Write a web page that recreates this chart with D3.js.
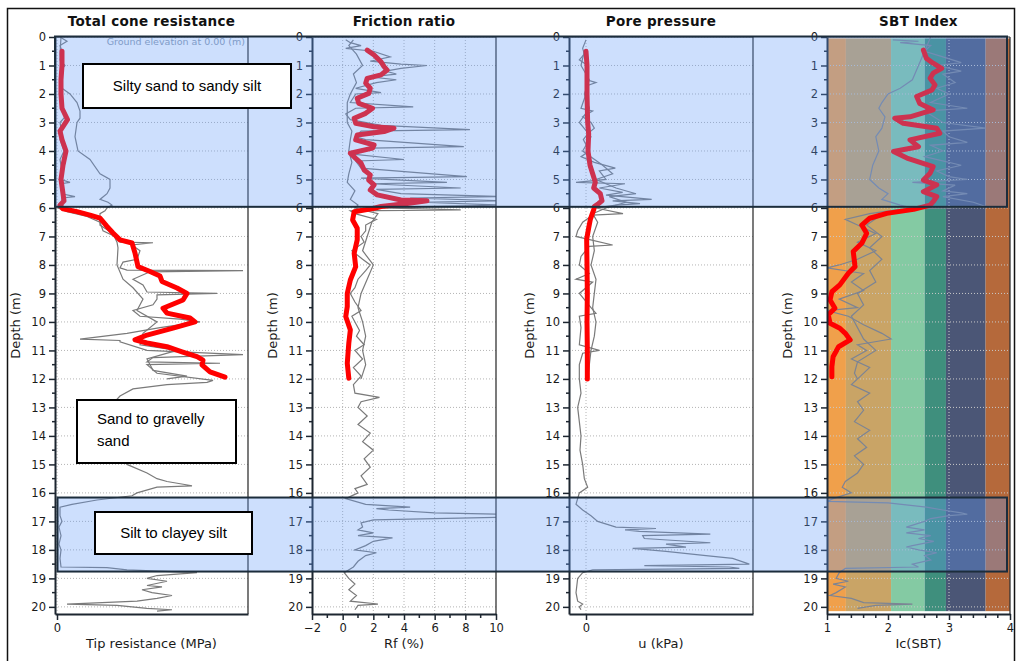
<!DOCTYPE html>
<html>
<head>
<meta charset="utf-8">
<script src="https://cdn.jsdelivr.net/npm/d3@7"></script>
<style>
  body { margin: 0; background: #fff; }
  svg { display: block; }
</style>
</head>
<body>
<svg id="chart" width="1019" height="661"></svg>
<script>
// --- data: [depth (m), value] ---
const qtAvg = [[0.5,0.5],[1.0,0.5],[1.5,0.4],[2.0,0.4],[2.5,0.5],[2.9,1.05],[3.3,0.3],[3.6,0.5],[4.0,0.9],[4.5,0.6],[5.0,0.4],[5.5,0.6],[5.75,0.7],[5.9,0.3],[6.03,0.6],[6.13,2.0],[6.25,3.3],[6.36,4.3],[6.65,5.0],[6.88,5.6],[7.12,6.3],[7.23,7.5],[7.58,7.8],[8.06,8.1],[8.23,9.3],[8.39,10.3],[8.58,10.5],[8.81,12.0],[9.0,13.0],[9.23,12.6],[9.52,10.6],[9.69,11.0],[9.86,13.3],[10.0,13.8],[10.22,11.6],[10.46,9.0],[10.63,7.8],[10.74,9.0],[10.87,11.0],[11.05,12.5],[11.22,14.0],[11.34,14.6],[11.51,14.5],[11.75,15.3],[11.94,16.8]];
const qtRawA = [[0.0,0.3],[0.15,1.0],[0.3,0.3],[0.5,0.5],[0.8,0.3],[1.0,0.8],[1.2,0.3],[1.5,0.5],[1.8,0.4],[2.0,0.3],[2.5,0.5],[2.8,0.8],[3.0,0.3],[3.4,0.5],[3.6,0.3],[4.0,0.7],[4.3,0.3],[4.7,0.5],[5.0,0.4],[5.1,1.3],[5.15,0.4],[5.5,0.5],[5.6,1.8],[5.65,0.5],[5.8,0.5],[6.0,0.1],[6.13,1.0],[6.3,3.0],[6.5,4.3],[6.8,4.6],[7.0,5.8],[7.2,6.3],[7.22,9.6],[7.3,7.5],[7.5,8.3],[7.8,8.0],[7.9,6.6],[8.1,6.3],[8.18,7.0],[8.2,18.6],[8.24,9.3],[8.5,7.6],[8.7,8.6],[8.95,9.0],[9.0,16.0],[9.05,10.0],[9.2,10.0],[9.4,9.6],[9.6,7.6],[9.8,8.3],[9.9,12.3],[10.0,14.3],[10.2,10.3],[10.4,7.0],[10.6,2.3],[10.65,6.3],[10.7,6.3],[11.0,9.0],[11.15,18.6],[11.25,9.6],[11.4,9.0],[11.45,16.3],[11.5,9.0],[11.8,10.0],[12.05,15.6],[12.12,15.0],[12.2,11.0],[12.35,7.6],[12.6,6.3],[12.9,5.5],[13.5,6.0],[14.0,6.5],[14.5,6.0],[15.0,7.0],[15.3,9.0],[15.5,10.0],[15.6,11.0],[15.75,13.5],[15.8,10.0],[16.0,8.0],[16.1,7.5],[16.25,4.0],[16.4,1.5],[16.5,0.3],[16.8,0.3],[17.0,0.5],[17.2,0.2],[17.5,0.4],[17.8,0.2],[18.0,0.4],[18.3,0.3],[18.6,0.4],[18.62,5.0],[18.7,7.0],[18.8,14.0],[18.9,10.0],[19.0,9.0],[19.1,11.0],[19.25,9.0],[19.3,10.5],[19.4,8.5],[19.5,9.5],[19.6,11.5],[19.7,10.0],[19.8,8.0],[19.9,1.0],[19.95,6.0],[20.05,9.0],[20.1,11.5],[20.15,10.0]];
const qtRawB = [[0.0,0.4],[0.6,0.3],[1.2,0.4],[1.8,0.5],[2.0,1.3],[2.3,2.0],[2.6,2.3],[2.85,2.3],[3.0,2.0],[3.5,1.8],[4.0,2.1],[4.3,3.3],[4.8,4.3],[5.0,5.3],[5.3,5.3],[5.5,5.0],[5.7,4.3],[5.8,5.1],[5.9,5.5],[6.0,5.0],[6.1,4.8],[6.2,4.3],[6.6,4.3],[6.9,5.6],[7.2,6.0],[7.4,6.1],[8.0,6.0],[8.5,6.6],[8.8,7.6],[9.2,8.6],[9.6,8.0],[10.0,10.0],[10.4,8.6],[10.8,8.3],[11.0,12.0],[11.3,9.0],[11.7,9.6],[11.9,13.0],[12.0,11.0]];

const rfAvg = [[0.46,1.6],[0.63,2.05],[0.87,2.5],[1.04,2.7],[1.16,2.9],[1.33,2.5],[1.45,1.6],[1.62,1.5],[1.8,1.8],[1.98,1.7],[2.15,0.95],[2.33,1.05],[2.5,1.95],[2.68,1.5],[2.85,0.75],[3.03,0.85],[3.15,2.05],[3.2,3.35],[3.32,2.7],[3.44,0.95],[3.61,0.85],[3.79,2.05],[3.9,1.95],[4.08,0.5],[4.26,0.85],[4.43,1.2],[4.67,1.4],[4.84,1.8],[5.02,1.7],[5.19,2.05],[5.37,1.8],[5.54,2.25],[5.72,3.8],[5.75,5.5],[5.84,4.2],[5.95,2.5],[6.01,2.05],[6.13,0.75],[6.42,0.65],[6.71,0.95],[7.12,0.95],[7.59,0.75],[8.06,0.85],[8.53,0.5],[9.0,0.3],[9.46,0.3],[9.81,0.2],[10.28,0.5],[10.75,0.4],[11.45,0.3],[11.98,0.4]];
const rfRawA = [[0.1,0.2],[0.2,0.5],[0.3,1.2],[0.4,0.2],[0.5,2.0],[0.7,3.1],[0.85,1.8],[0.95,3.8],[1.0,5.5],[1.1,3.8],[1.2,2.8],[1.3,3.5],[1.4,1.8],[1.5,3.5],[1.6,2.2],[1.8,0.85],[1.95,2.5],[2.0,0.85],[2.3,0.5],[2.45,4.6],[2.5,0.85],[2.7,0.2],[2.9,0.5],[3.1,2.5],[3.25,8.3],[3.3,1.2],[3.5,0.85],[3.6,1.5],[3.85,7.9],[3.9,1.8],[4.1,0.5],[4.3,4.0],[4.35,0.85],[4.6,1.2],[4.9,8.1],[4.95,1.2],[5.1,6.8],[5.15,1.8],[5.3,7.7],[5.35,2.2],[5.5,3.8],[5.6,10.5],[5.65,4.4],[5.75,10.5],[5.8,5.1],[5.9,10.5],[5.95,5.1],[6.0,2.5],[6.07,7.7],[6.1,0.5],[6.2,0.8],[6.4,2.2],[6.6,1.5],[6.8,1.5],[7.0,1.2],[7.2,1.4],[7.5,0.6],[7.8,1.3],[8.0,1.8],[8.2,1.5],[8.5,1.0],[8.8,0.8],[9.0,0.5],[9.3,0.8],[9.6,1.2],[9.8,0.6],[10.0,0.8],[10.3,1.1],[10.5,0.9],[10.8,1.4],[11.0,0.8],[11.3,1.3],[11.6,0.7],[11.9,1.2],[12.2,0.7],[12.5,0.8],[12.65,2.4],[12.8,1.2],[13.0,1.0],[13.3,1.6],[13.6,1.0],[13.9,1.8],[14.2,1.3],[14.5,2.0],[14.8,1.4],[15.1,1.8],[15.4,1.2],[15.7,1.6],[15.85,0.8],[16.0,1.0],[16.2,0.2],[16.4,1.5],[16.5,4.4],[16.55,2.2],[16.6,3.0],[16.7,6.0],[16.75,10.5],[16.85,10.5],[16.9,6.0],[16.95,2.0],[17.05,1.2],[17.2,1.3],[17.3,1.0],[17.4,2.0],[17.5,1.0],[17.58,3.25],[17.7,2.0],[17.85,1.5],[18.0,0.8],[18.1,2.2],[18.2,1.5],[18.4,1.0],[18.6,0.7],[18.8,0.1],[19.0,0.4],[19.2,0.8],[19.4,0.4],[19.6,0.9],[19.8,0.5],[19.9,2.3],[19.95,1.0],[20.1,0.8]];
const rfRawB = [[0.1,0.7],[0.3,0.4],[0.6,0.9],[1.0,1.3],[1.3,0.7],[1.6,0.9],[2.0,0.5],[2.3,0.3],[2.7,0.3],[3.0,0.3],[3.3,0.6],[3.6,0.5],[4.0,0.4],[4.4,0.6],[4.8,0.4],[5.1,0.3],[5.4,0.8],[5.7,0.5],[5.9,1.0],[6.0,0.8],[6.2,2.3],[6.5,1.9],[7.0,1.6],[7.5,1.3],[8.0,2.0],[8.5,1.6],[9.0,1.2],[9.5,1.0],[10.0,1.3],[10.5,1.5],[11.0,1.3],[11.5,1.5],[12.0,1.2]];

const uAvg = [[0.5,0],[1.0,3],[2.0,3],[3.0,5],[3.4,8],[4.0,6],[4.5,12],[4.8,20],[5.1,28],[5.3,23],[5.5,43],[5.75,48],[5.85,37],[5.95,25],[6.07,23],[6.4,13],[6.7,8],[7.1,2],[8.0,3],[9.0,4],[10.0,3],[11.0,4],[12.0,4]];
const uRawA = [[0.1,0],[0.4,-10],[0.6,-5],[0.8,-20],[1.0,5],[1.5,3],[1.6,30],[1.7,5],[2.0,0],[2.5,-15],[2.6,20],[2.8,-10],[3.0,15],[3.2,25],[3.4,5],[3.6,-8],[4.0,10],[4.2,-15],[4.4,25],[4.6,88],[4.7,40],[5.0,60],[5.1,-30],[5.15,117],[5.3,40],[5.45,110],[5.55,60],[5.7,197],[5.75,80],[5.85,162],[5.9,90],[6.0,30],[6.2,111],[6.25,20],[6.5,-10],[6.8,-25],[7.0,-30],[7.3,80],[7.35,10],[7.7,-15],[8.0,-20],[8.3,10],[8.5,-30],[8.6,20],[9.0,-20],[9.5,15],[9.7,30],[9.8,-20],[10.2,-15],[10.8,-20],[11.0,40],[11.1,-10],[11.5,-20],[12.0,-20],[12.5,-15],[13.0,-25],[13.5,-20],[14.0,-15],[14.5,-18],[15.0,-10],[15.5,-5],[15.8,5],[16.0,-20],[16.4,-30],[16.6,-10],[16.8,15],[17.0,35],[17.2,90],[17.25,210],[17.3,117],[17.35,160],[17.45,373],[17.5,170],[17.6,175],[17.75,373],[17.8,240],[17.9,300],[17.95,140],[18.05,240],[18.2,360],[18.3,440],[18.5,490],[18.55,175],[18.6,430],[18.65,460],[18.7,20],[18.8,-10],[19.0,-25],[19.5,-30],[19.8,-25],[19.9,-10],[20.0,-20],[20.1,-15]];
const uRawB = [[0.5,-5],[1.0,-15],[1.5,10],[2.0,-5],[2.5,10],[3.0,-20],[3.5,15],[4.0,-10],[4.5,50],[4.8,80],[5.0,30],[5.3,90],[5.5,150],[5.6,70],[5.8,120],[6.0,60],[6.2,20],[6.5,35],[7.0,20],[7.5,25],[8.0,15],[8.5,30],[9.0,25],[9.5,20],[10.0,30],[10.5,25],[11.0,15],[11.5,10],[12.0,5]];

const sbtAvg = [[0.46,2.58],[0.75,2.63],[0.92,2.74],[1.1,2.88],[1.27,2.74],[1.45,2.69],[1.68,2.77],[1.86,2.72],[2.09,2.47],[2.33,2.52],[2.56,2.74],[2.8,2.36],[2.85,2.11],[3.03,2.25],[3.2,2.8],[3.38,2.85],[3.61,2.36],[3.85,2.5],[4.02,2.09],[4.25,2.31],[4.55,2.74],[4.78,2.69],[5.02,2.58],[5.19,2.8],[5.43,2.58],[5.6,2.8],[5.78,2.74],[5.9,2.69],[6.05,2.42],[6.19,1.98],[6.36,1.7],[6.6,1.57],[6.89,1.65],[7.24,1.57],[7.53,1.43],[8.06,1.46],[8.29,1.35],[8.7,1.21],[8.94,1.08],[9.23,1.05],[9.52,1.13],[9.75,1.02],[10.05,1.05],[10.22,1.21],[10.4,1.3],[10.63,1.38],[10.87,1.19],[11.22,1.1],[11.57,1.08],[11.92,1.08]];
const sbtRawA = [[0.1,2.08],[0.15,2.5],[0.2,2.2],[0.3,2.7],[0.5,2.6],[0.7,2.9],[0.9,3.2],[1.0,2.8],[1.2,3.2],[1.3,2.9],[1.6,3.1],[1.8,2.8],[2.0,3.0],[2.3,2.7],[2.5,3.3],[2.6,2.6],[3.0,2.9],[3.2,3.6],[3.3,2.9],[3.5,3.0],[3.7,3.3],[3.8,2.7],[4.0,2.9],[4.2,2.6],[4.5,3.2],[4.7,2.8],[4.9,3.0],[5.0,3.3],[5.1,2.4],[5.2,3.1],[5.4,2.9],[5.5,3.3],[5.6,2.9],[5.8,3.4],[5.95,3.6],[6.0,3.0],[6.05,2.2],[6.2,1.7],[6.4,1.3],[6.6,1.5],[6.9,1.8],[7.2,1.5],[7.5,1.8],[7.8,1.5],[8.0,1.2],[8.1,1.0],[8.3,1.6],[8.6,1.4],[8.9,1.6],[9.2,1.2],[9.5,1.5],[9.6,1.0],[9.8,1.35],[10.1,1.6],[10.4,1.9],[10.6,2.05],[10.8,1.5],[11.0,1.65],[11.3,1.4],[11.6,1.7],[11.9,1.55],[12.2,1.4],[12.5,1.7],[12.8,1.5],[13.1,1.6],[13.5,1.45],[13.8,1.7],[14.1,1.5],[14.4,1.65],[14.7,1.45],[15.0,1.6],[15.3,1.5],[15.6,1.3],[15.8,1.25],[16.0,1.4],[16.2,1.1],[16.3,1.0],[16.35,2.0],[16.5,2.63],[16.6,2.9],[16.7,3.2],[16.75,3.3],[16.8,3.0],[16.9,2.7],[17.0,2.6],[17.2,2.3],[17.3,2.6],[17.4,2.3],[17.5,2.7],[17.6,2.5],[17.7,2.75],[17.85,2.4],[17.9,2.3],[18.0,2.5],[18.1,2.8],[18.2,2.6],[18.35,2.7],[18.5,2.4],[18.6,2.5],[18.65,1.3],[18.8,1.2],[19.0,1.15],[19.1,1.35],[19.2,1.1],[19.3,1.3],[19.5,1.15],[19.6,1.05],[19.7,1.4],[19.85,1.6],[19.9,2.4],[19.95,1.8],[20.05,1.5]];
const sbtRawB = [[0.0,2.7],[0.5,2.6],[1.0,2.5],[1.5,2.4],[1.8,2.2],[2.0,2.0],[2.3,1.9],[2.5,1.85],[2.8,1.95],[3.2,1.9],[3.5,1.8],[4.0,1.85],[4.5,1.75],[5.0,1.7],[5.3,1.85],[5.5,2.0],[5.7,1.9],[5.9,2.2],[6.0,2.4],[6.1,2.1],[6.3,1.85],[6.6,1.65],[7.0,1.9],[7.4,1.7],[7.8,1.9],[8.2,1.7],[8.6,1.8],[9.0,1.5],[9.4,1.6],[9.8,1.4],[10.2,1.5],[10.6,1.6],[11.0,1.8],[11.4,1.5],[11.8,1.45],[12.0,1.5]];

// SBT zone boundaries (Ic) and colours
const sbtBounds = [1.0, 1.31, 2.05, 2.6, 2.95, 3.6, 4.0];
const sbtColors = ["#f0a04b", "#c9a466", "#84caa3", "#3f8f7d", "#4b5676", "#b5693b"];

// interpreted layers: depth range + label
const layerTop = [0, 16.18];
const layerBottom = [5.96, 18.76];
const boxLabels = [["Silty sand to sandy silt"], ["Sand to gravelly", "sand"], ["Silt to clayey silt"]];

const depthTicks = d3.range(0, 21);

const svg = d3.select("#chart");
const H = 661, W = 1019;
const plotTop = 37, plotBottom = 614;
const y = d3.scaleLinear().domain([0, 20.25]).range([plotTop, plotBottom]);

const panels = [
  { title: "Total cone resistance", xLabel: "Tip resistance (MPa)", x0: 55, x1: 248, domain: [-0.2, 19.1],
    major: [0], labels: [0], minor: [], grid: [0], avg: qtAvg, raw: [qtRawB, qtRawA] },
  { title: "Friction ratio", xLabel: "Rf (%)", x0: 312, x1: 496, domain: [-2, 10],
    major: d3.range(-2, 11, 2), labels: d3.range(-2, 11, 2), minor: d3.range(-1, 10, 2), grid: [0, 2, 4, 6, 8], avg: rfAvg, raw: [rfRawB, rfRawA] },
  { title: "Pore pressure", xLabel: "u (kPa)", x0: 569, x1: 753, domain: [-51, 501],
    major: [0], labels: [0], minor: [], grid: [0], avg: uAvg, raw: [uRawB, uRawA] },
  { title: "SBT Index", xLabel: "Ic(SBT)", x0: 827, x1: 1010, domain: [1, 4],
    major: [1, 2, 3, 4], labels: [1, 2, 3, 4], minor: d3.range(1.2, 4, 0.2).filter(v => Math.abs(v - Math.round(v)) > 0.05), grid: [3], avg: sbtAvg, raw: [sbtRawB, sbtRawA], bands: true }
];

const ink = "#1d2630";
const defs = svg.append("defs");

// outer frame
svg.append("rect").attr("x", 7.5).attr("y", 8.5).attr("width", 1007).attr("height", 660)
  .attr("fill", "none").attr("stroke", "#111").attr("stroke-width", 1.5);

panels.forEach((p, i) => {
  const x = d3.scaleLinear().domain(p.domain).range([p.x0, p.x1]);
  const g = svg.append("g");

  defs.append("clipPath").attr("id", "clip" + i)
    .append("rect").attr("x", p.x0).attr("y", plotTop).attr("width", p.x1 - p.x0).attr("height", plotBottom - plotTop);

  if (p.bands) {
    g.selectAll("rect.band").data(sbtColors).enter().append("rect")
      .attr("x", (d, k) => x(sbtBounds[k]))
      .attr("width", (d, k) => x(sbtBounds[k + 1]) - x(sbtBounds[k]))
      .attr("y", y(0.05)).attr("height", y(20.15) - y(0.05))
      .attr("fill", d => d);
  }

  // grid
  g.selectAll("line.hg").data(depthTicks).enter().append("line")
    .attr("x1", p.x0).attr("x2", p.x1).attr("y1", d => y(d)).attr("y2", d => y(d))
    .attr("stroke", p.bands ? "#c8c8c8" : "#b4b4b4").attr("stroke-width", 1).attr("stroke-dasharray", "1,2");
  g.selectAll("line.vg").data(p.grid).enter().append("line")
    .attr("x1", d => x(d)).attr("x2", d => x(d)).attr("y1", plotTop).attr("y2", plotBottom)
    .attr("stroke", p.bands ? "#d0d0d0" : "#b4b4b4").attr("stroke-width", 1).attr("stroke-dasharray", "1,2");

  const line = d3.line().x(d => x(d[1])).y(d => y(d[0]));
  const lines = g.append("g").attr("clip-path", `url(#clip${i})`);
  p.raw.forEach(r => {
    lines.append("path").attr("d", line(r)).attr("fill", "none")
      .attr("stroke", p.bands ? "#7c8494" : "#7a7a7a").attr("stroke-width", 1.2);
  });
  lines.append("path").attr("d", line(p.avg)).attr("fill", "none")
    .attr("stroke", "#ff0000").attr("stroke-width", 5).attr("stroke-linejoin", "round").attr("stroke-linecap", "round");

  // frame
  g.append("line").attr("x1", p.x1).attr("x2", p.x1).attr("y1", plotTop).attr("y2", plotBottom)
    .attr("stroke", "#333").attr("stroke-width", 1.3);
  g.append("line").attr("x1", p.x0).attr("x2", p.x1).attr("y1", plotTop).attr("y2", plotTop)
    .attr("stroke", "#333").attr("stroke-width", 1);

  // depth axis
  const yAxis = d3.axisLeft(y).tickValues(depthTicks).tickSize(6).tickSizeOuter(0).tickPadding(3).tickFormat(d3.format("d"));
  const ya = svg.append("g").attr("transform", `translate(${p.x0},0)`).call(yAxis);
  ya.selectAll(".tick line").attr("stroke", ink).attr("stroke-width", 1.5);
  ya.selectAll(".tick text").attr("font-family", "DejaVu Sans, Verdana, sans-serif").attr("font-size", 11.5).attr("fill", "#1a1a1a");
  ya.select(".domain").attr("stroke", ink).attr("stroke-width", 2);
  ya.selectAll("line.minor").data(d3.range(0.5, 20.25, 1)).enter().append("line").attr("class", "minor")
    .attr("x1", -3).attr("x2", 0).attr("y1", d => y(d)).attr("y2", d => y(d)).attr("stroke", ink).attr("stroke-width", 1.5);

  // x axis
  const xAxis = d3.axisBottom(x).tickValues(p.major).tickSize(6).tickSizeOuter(0).tickPadding(4)
    .tickFormat(d => p.labels.includes(d) ? d3.format("d")(d) : "");
  const xa = svg.append("g").attr("transform", `translate(0,${plotBottom})`).call(xAxis);
  xa.selectAll(".tick line").attr("stroke", ink).attr("stroke-width", 1.5);
  xa.selectAll(".tick text").attr("font-family", "DejaVu Sans, Verdana, sans-serif").attr("font-size", 11.5).attr("fill", "#1a1a1a");
  xa.select(".domain").attr("stroke", ink).attr("stroke-width", 2);
  xa.selectAll("line.minor").data(p.minor).enter().append("line").attr("class", "minor")
    .attr("x1", d => x(d)).attr("x2", d => x(d)).attr("y1", 0).attr("y2", 4).attr("stroke", ink).attr("stroke-width", 1.5);

  svg.append("text").attr("x", (p.x0 + p.x1) / 2).attr("y", 648).attr("text-anchor", "middle")
    .attr("font-family", "DejaVu Sans, Verdana, sans-serif").attr("font-size", 13).attr("fill", "#1a1a1a")
    .text(p.xLabel);
  svg.append("text").attr("transform", `translate(${p.x0 - 35},${(plotTop + plotBottom) / 2}) rotate(-90)`)
    .attr("text-anchor", "middle")
    .attr("font-family", "DejaVu Sans, Verdana, sans-serif").attr("font-size", 13).attr("fill", "#1a1a1a")
    .text("Depth (m)");
  svg.append("text").attr("x", (p.x0 + p.x1) / 2).attr("y", 26).attr("text-anchor", "middle")
    .attr("font-family", "DejaVu Sans, Verdana, sans-serif").attr("font-weight", "bold").attr("font-size", 13.5)
    .attr("letter-spacing", 0.3).attr("fill", "#111")
    .text(p.title);

  p.xScale = x;
});

svg.append("text").attr("x", 245).attr("y", 45).attr("text-anchor", "end")
  .attr("font-family", "DejaVu Sans, Verdana, sans-serif").attr("font-size", 9.5).attr("fill", "#8d9bb0")
  .text("Ground elevation at 0.00 (m)");

// interpreted layer overlays
const ovLeft = [55, 57.5];
layerTop.forEach((t, k) => {
  svg.append("rect")
    .attr("x", ovLeft[k]).attr("y", y(t) - 0.5)
    .attr("width", 1007 - ovLeft[k]).attr("height", y(layerBottom[k]) - y(t) + 0.5)
    .attr("fill", "rgb(100,155,250)").attr("fill-opacity", 0.32)
    .attr("stroke", "#1c2d3c").attr("stroke-width", 2);
});

// label boxes
const boxes = [
  { x: 83, y: 64, w: 208, h: 44, anchor: "middle" },
  { x: 77, y: 400, w: 159, h: 63, anchor: "start" },
  { x: 95, y: 512, w: 157, h: 42, anchor: "middle" }
];
boxes.forEach((b, k) => {
  svg.append("rect").attr("x", b.x).attr("y", b.y).attr("width", b.w).attr("height", b.h)
    .attr("fill", "#fff").attr("stroke", "#000").attr("stroke-width", 2);
  const lines = boxLabels[k];
  const t = svg.append("text").attr("font-family", "Liberation Sans, Arial, sans-serif").attr("font-size", 15)
    .attr("fill", "#000").attr("text-anchor", b.anchor);
  lines.forEach((s, j) => {
    t.append("tspan")
      .attr("x", b.anchor === "middle" ? b.x + b.w / 2 : b.x + 20)
      .attr("y", lines.length > 1 ? b.y + 24 + j * 22 : b.y + b.h / 2 + 5)
      .text(s);
  });
});
</script>
</body>
</html>
